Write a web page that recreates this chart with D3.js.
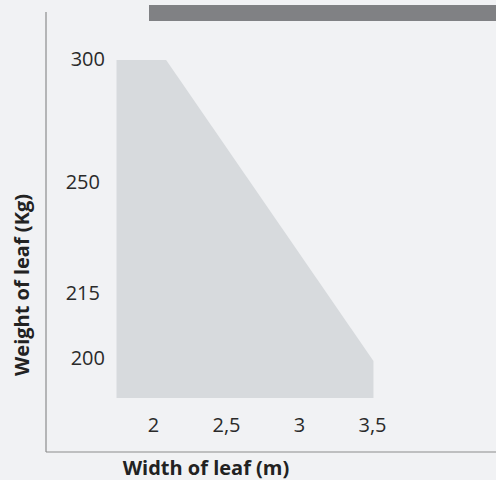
<!DOCTYPE html>
<html><head><meta charset="utf-8">
<script src="https://cdn.jsdelivr.net/npm/d3@7"></script>
<style>
html,body{margin:0;padding:0;background:#f1f2f4;}
svg{display:block;font-family:"Open Sans",sans-serif;}
</style></head>
<body><svg id="c" width="496" height="480"></svg>
<script>
// data
const envelopeWidth = [1.75, 2.09, 3.51, 3.51, 1.75];   // m
const envelopeWeight = [300, 300, 199.5, 190, 190];      // kg
const xTicks = [2, 2.5, 3, 3.5];
const xTickLabels = ["2", "2,5", "3", "3,5"];
const yTicks = [300, 250, 215, 200];
const yTickLabels = ["300", "250", "215", "200"];
const xTitle = "Width of leaf (m)";
const yTitle = "Weight of leaf (Kg)";

const svg = d3.select("#c");
const W = 496, H = 480;

// top grey band
svg.append("rect").attr("x", 149).attr("y", 5).attr("width", W - 149).attr("height", 16).attr("fill", "#808184");

const x = d3.scaleLinear().domain([2, 3.5]).range([153, 372]);
// the picture's weight axis is not evenly spaced: piecewise scale through the tick positions
const y = d3.scaleLinear().domain([190, 200, 215, 250, 300]).range([398, 359, 294, 183, 60]);

const pts = envelopeWidth.map((w, i) => [w, envelopeWeight[i]]);
svg.append("path")
  .attr("d", d3.line().x(d => x(d[0])).y(d => y(d[1]))(pts) + "Z")
  .attr("fill", "#d7dadd");

// axis lines
svg.append("line").attr("x1", 46).attr("x2", 46).attr("y1", 12).attr("y2", 452).attr("stroke", "#8c8c8c").attr("stroke-width", 1.2);
svg.append("line").attr("x1", 46).attr("x2", W).attr("y1", 452).attr("y2", 452).attr("stroke", "#8c8c8c").attr("stroke-width", 1.2);

// x axis ticks
const xa = svg.append("g").attr("transform", "translate(0,418)")
  .call(d3.axisBottom(x).tickValues(xTicks).tickSize(0).tickPadding(0)
    .tickFormat((d, i) => xTickLabels[i]));
xa.select(".domain").remove();
xa.selectAll("text").attr("font-size", 20).attr("fill", "#2a2a2a").attr("font-family", "Open Sans");

// y axis ticks
const ya = svg.append("g").attr("transform", "translate(105,0)")
  .call(d3.axisLeft(y).tickValues(yTicks).tickSize(0).tickPadding(0)
    .tickFormat((d, i) => yTickLabels[i]));
ya.select(".domain").remove();
ya.selectAll("text").attr("font-size", 20).attr("fill", "#2a2a2a").attr("font-family", "Open Sans")
  .attr("dy", "0.25em")
  .attr("dx", d => (d === 250 || d === 215) ? -5 : 0);

svg.append("text").attr("x", 206).attr("y", 475).attr("text-anchor", "middle")
  .attr("font-size", 20).attr("font-weight", "bold").attr("fill", "#222").text(xTitle);
svg.append("text").attr("transform", "translate(29,285) rotate(-90)").attr("text-anchor", "middle")
  .attr("font-size", 20).attr("font-weight", "bold").attr("fill", "#222").text(yTitle);
</script></body></html>
